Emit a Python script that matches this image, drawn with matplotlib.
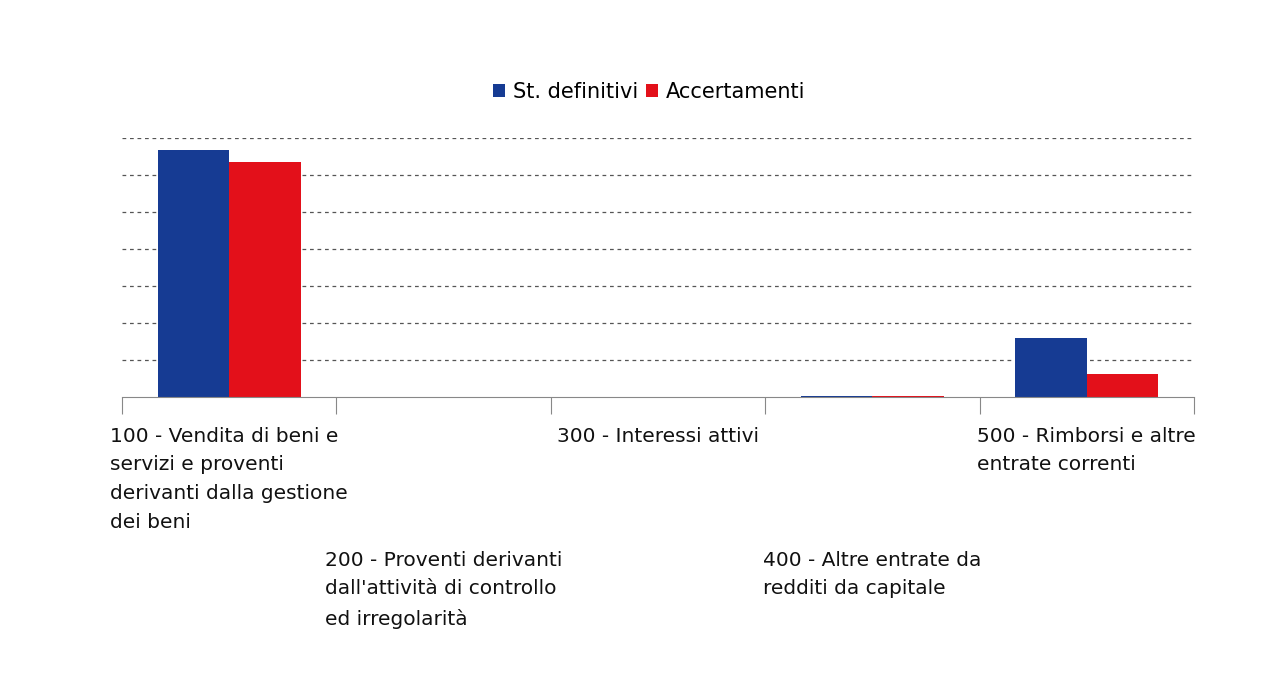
import numpy as np
import matplotlib
matplotlib.use("Agg")
import matplotlib.pyplot as plt

categories = [
    "100 - Vendita di beni e\nservizi e proventi\nderivanti dalla gestione\ndei beni",
    "200 - Proventi derivanti\ndall'attività di controllo\ned irregolarità",
    "300 - Interessi attivi",
    "400 - Altre entrate da\nredditi da capitale",
    "500 - Rimborsi e altre\nentrate correnti",
]
series_names = ["St. definitivi", "Accertamenti"]
st_definitivi = [6.68, 0.0, 0.01, 0.04, 1.59]
accertamenti = [6.35, 0.0, 0.005, 0.04, 0.62]
colors = ["#163b93", "#e3101a"]

plt.rcParams['font.family'] = ['DejaVu Sans']

fig = plt.figure(figsize=(12.86, 6.86), dpi=100)
ax = fig.add_axes([122 / 1286, 1 - 397 / 686, (1194 - 122) / 1286, (397 - 138) / 686])

x = np.arange(len(categories))
w = 1 / 3
ax.bar(x - w / 2, st_definitivi, w, color=colors[0], label=series_names[0])
ax.bar(x + w / 2, accertamenti, w, color=colors[1], label=series_names[1])

ax.set_xlim(-0.5, len(categories) - 0.5)
ax.set_ylim(0, 7)
ax.set_yticks(np.arange(1, 8))
ax.yaxis.grid(True, linestyle=(0, (3, 3)), color="#555555", linewidth=0.9)
ax.set_axisbelow(True)
ax.tick_params(axis="y", left=False, labelleft=False)
ax.set_xticks(np.arange(-0.5, len(categories)))
ax.tick_params(axis="x", length=12, color="#888888", labelbottom=False)
for s in ["left", "right", "top"]:
    ax.spines[s].set_visible(False)
ax.spines["bottom"].set_color("#888888")

for i, lab in enumerate(categories):
    y = -0.8 if i % 2 == 0 else -4.15
    ax.text(i, y, lab, ha="center", va="top", multialignment="left",
            fontsize=14.5, linespacing=1.65, color="#111111", clip_on=False)

ax.legend(loc="upper center", bbox_to_anchor=(0.492, 1.29), ncol=2, frameon=False,
          fontsize=15, handlelength=0.55, handleheight=0.55, handletextpad=0.4,
          columnspacing=0.4)

fig.savefig("out.png", dpi=100)
